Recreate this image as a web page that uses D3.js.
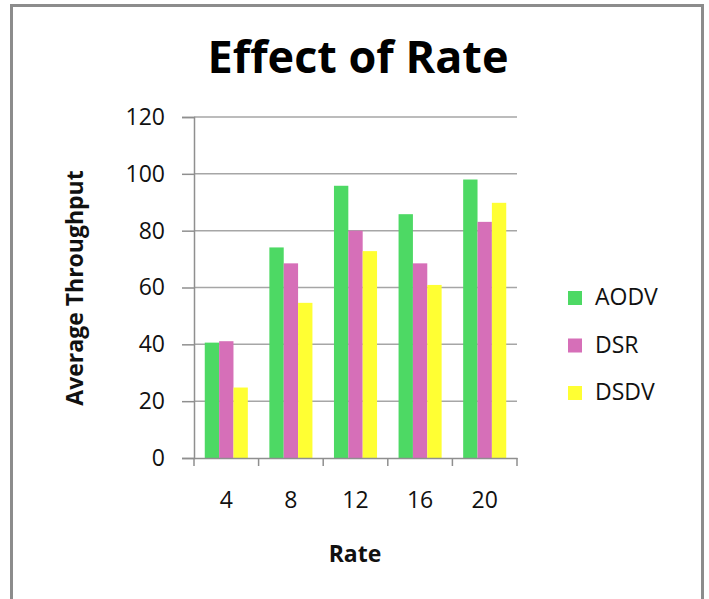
<!DOCTYPE html>
<html><head><meta charset="utf-8">
<script src="https://cdn.jsdelivr.net/npm/d3@7"></script>
<style>body{margin:0;background:#fff;} text{font-family:"Open Sans",sans-serif;}</style>
</head><body>
<svg id="c" width="709" height="599"></svg>
<script>
const categories = ["4","8","12","16","20"];
const seriesNames = ["AODV","DSR","DSDV"];
const aodv = [40.6, 74.1, 95.8, 85.8, 98.0];
const dsr  = [41.1, 68.5, 80.0, 68.5, 83.1];
const dsdv = [24.8, 54.6, 72.8, 60.9, 89.8];
const yTicks = [0,20,40,60,80,100,120];
const colors = ["#4dd964","#d66fb8","#ffff33"];
const seriesVals = [aodv, dsr, dsdv];

const svg = d3.select("#c");
svg.append("rect").attr("x",11.5).attr("y",5.5).attr("width",691).attr("height",610)
  .attr("fill","#fff").attr("stroke","#8c8c8c").attr("stroke-width",3);

const L=194,R=517,T=117,B=458;
const x = d3.scaleBand().domain(categories).range([L,R]).paddingInner(0).paddingOuter(0);
const y = d3.scaleLinear().domain([0,120]).range([B,T]);
const bw = x.bandwidth()/4.5;

// gridlines
svg.append("g").selectAll("line").data(yTicks.filter(d=>d>0)).join("line")
  .attr("x1",L).attr("x2",R).attr("y1",d=>y(d)).attr("y2",d=>y(d))
  .attr("stroke","#a6a6a6").attr("stroke-width",1.5);

// bars
seriesVals.forEach((vals,si)=>{
  svg.append("g").selectAll("rect").data(vals).join("rect")
    .attr("x",(d,i)=>x(categories[i])+0.75*bw+si*bw)
    .attr("y",d=>y(d)).attr("width",bw).attr("height",d=>B-y(d))
    .attr("fill",colors[si]);
});

// y axis
const ya = svg.append("g").attr("transform",`translate(${L},0)`)
  .call(d3.axisLeft(y).tickValues(yTicks).tickSize(12).tickPadding(17));
ya.select(".domain").attr("stroke","#8f8f8f").attr("stroke-width",1.5);
ya.selectAll(".tick line").attr("stroke","#8f8f8f").attr("stroke-width",1.5);
ya.selectAll("text").attr("font-size",23).attr("fill","#111").attr("font-family","Open Sans, sans-serif");

// x axis
const xa = svg.append("g").attr("transform",`translate(0,${B})`)
  .call(d3.axisBottom(x).tickSize(0).tickPadding(0));
xa.select(".domain").attr("stroke","#8f8f8f").attr("stroke-width",1.5);
xa.selectAll("text").attr("font-size",23).attr("fill","#111").attr("font-family","Open Sans, sans-serif")
  .attr("dy",null).attr("y",50);
// boundary ticks
svg.append("g").selectAll("line").data(d3.range(categories.length+1)).join("line")
  .attr("x1",i=>L+i*x.bandwidth()).attr("x2",i=>L+i*x.bandwidth())
  .attr("y1",B).attr("y2",B+8).attr("stroke","#8f8f8f").attr("stroke-width",1.5);

// title
svg.append("text").attr("x",358).attr("y",73).attr("text-anchor","middle")
  .attr("font-size",45).attr("font-weight","bold").attr("fill","#000").text("Effect of Rate");
// axis titles
svg.append("text").attr("x",355).attr("y",562).attr("text-anchor","middle")
  .attr("font-size",23).attr("font-weight","bold").attr("fill","#111").text("Rate");
svg.append("text").attr("transform","translate(83,288) rotate(-90)").attr("text-anchor","middle")
  .attr("font-size",23).attr("font-weight","bold").attr("fill","#111").text("Average Throughput");

// legend
const lg = svg.append("g");
seriesNames.forEach((n,i)=>{
  const base = 305 + i*47.5;
  lg.append("rect").attr("x",568).attr("y",base-14).attr("width",14).attr("height",14).attr("fill",colors[i]);
  lg.append("text").attr("x",595).attr("y",base).attr("font-size",23).attr("fill","#111").text(n);
});
</script>
</body></html>
